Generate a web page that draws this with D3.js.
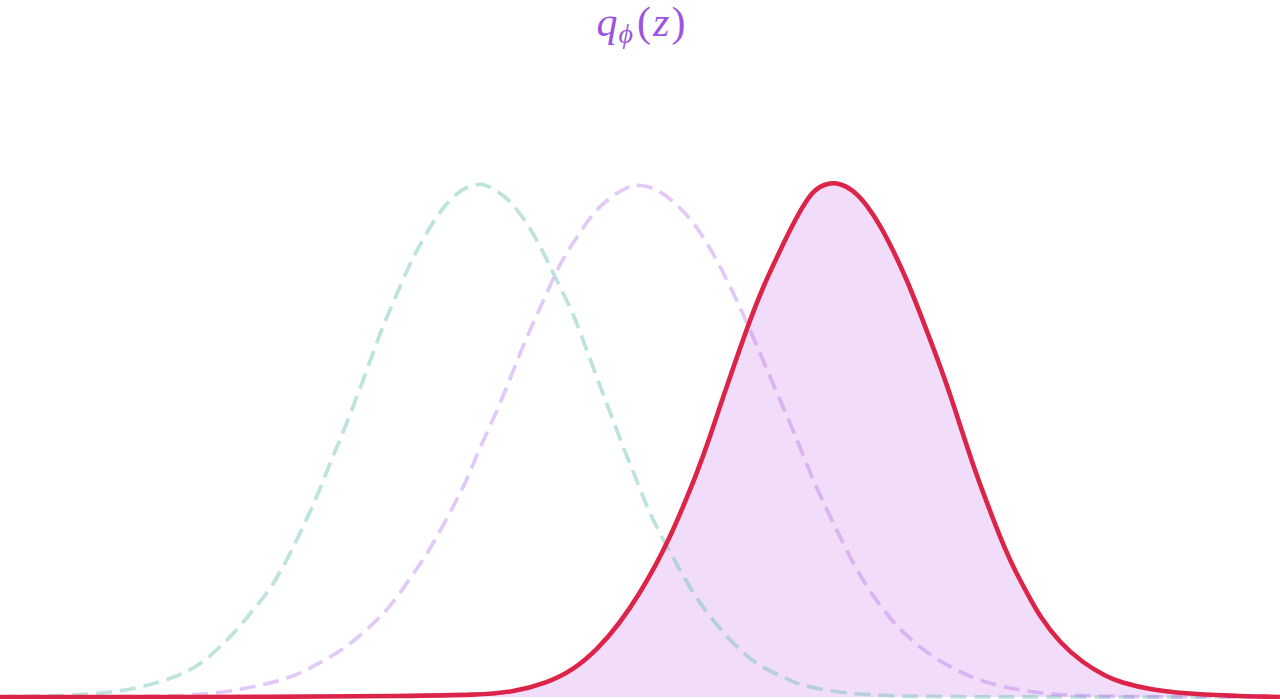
<!DOCTYPE html>
<html>
<head>
<meta charset="utf-8">
<script src="https://cdn.jsdelivr.net/npm/d3@7"></script>
<style>
  html, body { margin: 0; padding: 0; background: #ffffff; overflow: hidden; }
  svg { display: block; }
</style>
</head>
<body>
<svg id="chart" width="1280" height="699"></svg>
<script>
// ---- Data (x position, curve height) ----
const priorAX = [0, 50, 100, 140, 173, 197, 217, 237, 253, 270, 287, 303, 317, 330, 340, 353, 367, 380, 393, 407, 417, 430, 443, 460, 473, 481, 487, 507, 523, 537, 547, 560, 573, 583, 593, 603, 613, 623, 633, 643, 653, 667, 680, 693, 710, 727, 747, 767, 790, 800, 833, 883, 950, 1280];
const priorAY = [0, 1, 3, 9, 19, 30, 47, 67, 87, 107, 137, 170, 200, 234, 257, 290, 327, 364, 394, 427, 447, 470, 490, 507, 512, 513, 512, 500, 480, 457, 437, 410, 384, 357, 330, 303, 277, 250, 226, 200, 177, 150, 127, 104, 80, 60, 40, 27, 17, 12, 5, 1, 0, 0];

const priorBX = [0, 100, 187, 227, 263, 293, 320, 347, 370, 390, 407, 423, 437, 453, 467, 480, 493, 507, 520, 533, 547, 560, 577, 593, 610, 627, 640, 660, 680, 697, 713, 727, 740, 750, 763, 777, 790, 800, 813, 827, 840, 853, 867, 883, 903, 927, 950, 977, 1007, 1040, 1083, 1280];
const priorBY = [0, 0, 1, 5, 12, 20, 34, 50, 70, 90, 114, 137, 160, 190, 217, 250, 277, 310, 344, 374, 404, 434, 460, 484, 500, 510, 513, 507, 490, 470, 444, 417, 390, 367, 337, 304, 274, 250, 217, 187, 160, 134, 110, 87, 64, 44, 30, 17, 9, 4, 0, 0];

const postX = [0, 300, 400, 480, 513, 547, 573, 597, 620, 640, 657, 670, 683, 697, 710, 723, 737, 750, 763, 777, 790, 800, 813, 827, 840, 853, 867, 880, 893, 907, 920, 933, 947, 960, 973, 987, 1000, 1013, 1027, 1040, 1060, 1083, 1107, 1120, 1150, 1200, 1280];
const postY = [0, 0, 1, 2, 5, 14, 27, 47, 74, 104, 134, 160, 190, 224, 260, 300, 340, 377, 410, 440, 467, 486, 507, 514, 514, 507, 492, 472, 447, 417, 384, 350, 312, 272, 232, 194, 160, 130, 104, 80, 54, 34, 20, 15, 7, 2, 0];

const titleMain = "q";
const titleSub = "\u03D5";
const titleOpen = "(";
const titleArg = "z";
const titleClose = ")";

// ---- Scales ----
const x = d3.scaleLinear().domain([0, 1280]).range([0, 1280]);
const y = d3.scaleLinear().domain([0, 513]).range([697, 184]);

const zip = (xs, ys) => xs.map((v, i) => ({ x: v, y: ys[i] }));
const priorA = zip(priorAX, priorAY);
const priorB = zip(priorBX, priorBY);
const post = zip(postX, postY);

const svg = d3.select("#chart");

const line = d3.line().x(d => x(d.x)).y(d => y(d.y)).curve(d3.curveBasis);
const area = d3.area().x(d => x(d.x)).y0(y(0)).y1(d => y(d.y)).curve(d3.curveBasis);

// posterior fill
svg.append("path")
  .datum(post)
  .attr("d", area)
  .attr("fill", "#f1dcf9");

// dashed priors
svg.append("path")
  .datum(priorA)
  .attr("d", line)
  .attr("fill", "none")
  .attr("stroke", "#6cc2b4")
  .attr("stroke-opacity", 0.45)
  .attr("stroke-width", 3.7)
  .attr("stroke-dasharray", "16,8");

svg.append("path")
  .datum(priorB)
  .attr("d", line)
  .attr("fill", "none")
  .attr("stroke", "#b777ec")
  .attr("stroke-opacity", 0.4)
  .attr("stroke-width", 3.7)
  .attr("stroke-dasharray", "16,8");

// posterior line
svg.append("path")
  .datum(post)
  .attr("d", line)
  .attr("fill", "none")
  .attr("stroke", "#dc2448")
  .attr("stroke-width", 4.6)
  .attr("stroke-linejoin", "round");

// title
const t = svg.append("text")
  .attr("x", 641)
  .attr("y", 36)
  .attr("text-anchor", "middle")
  .attr("fill", "#9b55e0")
  .attr("font-family", "'Liberation Serif', 'DejaVu Serif', serif")
  .attr("font-size", 42);
t.append("tspan").attr("font-style", "italic").text(titleMain);
t.append("tspan").attr("font-style", "italic").attr("font-size", 28).attr("dy", 7).attr("dx", 1).text(titleSub);
t.append("tspan").attr("dy", -7).attr("dx", 4).text(titleOpen);
t.append("tspan").attr("font-style", "italic").attr("dx", 2).text(titleArg);
t.append("tspan").attr("dx", 2).text(titleClose);
</script>
</body>
</html>
